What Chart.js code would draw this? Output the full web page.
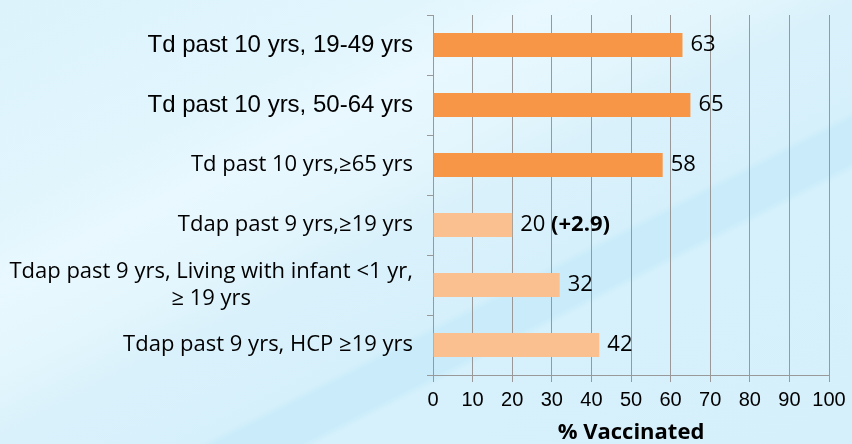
<!DOCTYPE html>
<html>
<head>
<meta charset="utf-8">
<script src="https://cdn.jsdelivr.net/npm/chart.js@4"></script>
<style>
    html, body { margin: 0; padding: 0; }
    body {
        width: 852px;
        height: 444px;
        overflow: hidden;
        background: linear-gradient(153deg, #dcf3fc 0%, #e1f5fd 24%, #e8f8fe 32%, #e4f6fd 42%, #d9f1fb 50%, #d6f0fb 62%, #caecfa 63%, #caecfa 68%, #d6f1fc 69%, #d5f0fb 100%);
    }
</style>
</head>
<body>
<canvas id="vaxChart" width="852" height="444"></canvas>
<script>
// kategorie (etykiety osi Y), wartości i dopiski przy słupkach
var categories = [
    ['Td past 10 yrs, 19-49 yrs'],
    ['Td past 10 yrs, 50-64 yrs'],
    ['Td past 10 yrs,\u226565 yrs'],
    ['Tdap past 9 yrs,\u226519 yrs'],
    ['Tdap past 9 yrs, Living with infant <1 yr,', '\u2265 19 yrs'],
    ['Tdap past 9 yrs, HCP \u226519 yrs']
];
var values = [63, 65, 58, 20, 32, 42];
var notes = ['', '', '', '(+2.9)', '', ''];
var vaccine = ['Td', 'Td', 'Td', 'Tdap', 'Tdap', 'Tdap'];
var xTicks = [0, 10, 20, 30, 40, 50, 60, 70, 80, 90, 100];

// style
var barColors = { 'Td': '#f79646', 'Tdap': '#fac090' };
var arialFont = '24px "Liberation Sans", Arial, sans-serif';
var labelFont = '22px "Open Sans", sans-serif';
var boldFont = 'bold 22px "Open Sans", sans-serif';
// dwie pierwsze etykiety w oryginale mają inny krój
var categoryFonts = [arialFont, arialFont, labelFont, labelFont, labelFont, labelFont];

// etykiety kategorii - wiersze wyśrodkowane względem najdłuższego, blok do prawej
var categoryLabels = {
    id: 'categoryLabels',
    afterDraw: function (chart) {
        var ctx = chart.ctx;
        var yScale = chart.scales.y;
        var right = yScale.right - 20;
        var lineH = 27;
        ctx.save();
        ctx.fillStyle = '#000';
        ctx.textBaseline = 'middle';
        ctx.textAlign = 'center';
        categories.forEach(function (lines, i) {
            ctx.font = categoryFonts[i];
            var cy = yScale.getPixelForValue(i);
            var widest = 0;
            lines.forEach(function (l) { widest = Math.max(widest, ctx.measureText(l).width); });
            var startY = cy - (lines.length - 1) * lineH / 2;
            lines.forEach(function (l, j) {
                ctx.fillText(l, right - widest / 2, startY + j * lineH);
            });
        });
        ctx.restore();
    }
};

// wartości przy końcach słupków
var valueLabels = {
    id: 'valueLabels',
    afterDatasetsDraw: function (chart) {
        var ctx = chart.ctx;
        var meta = chart.getDatasetMeta(0);
        ctx.save();
        ctx.fillStyle = '#000';
        ctx.textBaseline = 'middle';
        ctx.textAlign = 'left';
        meta.data.forEach(function (bar, i) {
            var x = bar.x + 8;
            var txt = String(values[i]);
            ctx.font = labelFont;
            ctx.fillText(txt, x, bar.y);
            if (notes[i]) {
                x += ctx.measureText(txt + ' ').width;
                ctx.font = boldFont;
                ctx.fillText(notes[i], x, bar.y);
            }
        });
        ctx.restore();
    }
};

new Chart(document.getElementById('vaxChart'), {
    type: 'bar',
    data: {
        labels: categories.map(function (c) { return c.join(' '); }),
        datasets: [{
            data: values,
            backgroundColor: vaccine.map(function (v) { return barColors[v]; }),
            borderWidth: 0,
            categoryPercentage: 0.4,
            barPercentage: 1.0
        }]
    },
    options: {
        indexAxis: 'y',
        responsive: false,
        animation: false,
        devicePixelRatio: 1,
        layout: { padding: { top: 15, right: 23, left: 0, bottom: 0 } },
        plugins: {
            legend: { display: false },
            tooltip: { enabled: false }
        },
        scales: {
            x: {
                min: 0,
                max: 100,
                afterBuildTicks: function (scale) {
                    scale.ticks = xTicks.map(function (v) { return { value: v }; });
                },
                afterFit: function (scale) { scale.height = 69; },
                grid: {
                    color: '#999999',
                    lineWidth: 1,
                    tickLength: 7,
                    drawTicks: true
                },
                border: { color: '#999999' },
                ticks: {
                    color: '#000',
                    padding: 6,
                    font: { family: '"Liberation Sans", Arial, sans-serif', size: 20 }
                },
                title: {
                    display: true,
                    text: '% Vaccinated',
                    color: '#000',
                    font: { family: '"Open Sans", sans-serif', size: 22, weight: 'bold', lineHeight: 1.0 },
                    padding: { top: 0, bottom: 0 }
                }
            },
            y: {
                afterFit: function (scale) { scale.width = 433; },
                grid: {
                    offset: true,
                    drawOnChartArea: false,
                    color: '#999999',
                    tickLength: 6
                },
                border: { color: '#999999' },
                ticks: { display: false }
            }
        }
    },
    plugins: [categoryLabels, valueLabels]
});
</script>
</body>
</html>
